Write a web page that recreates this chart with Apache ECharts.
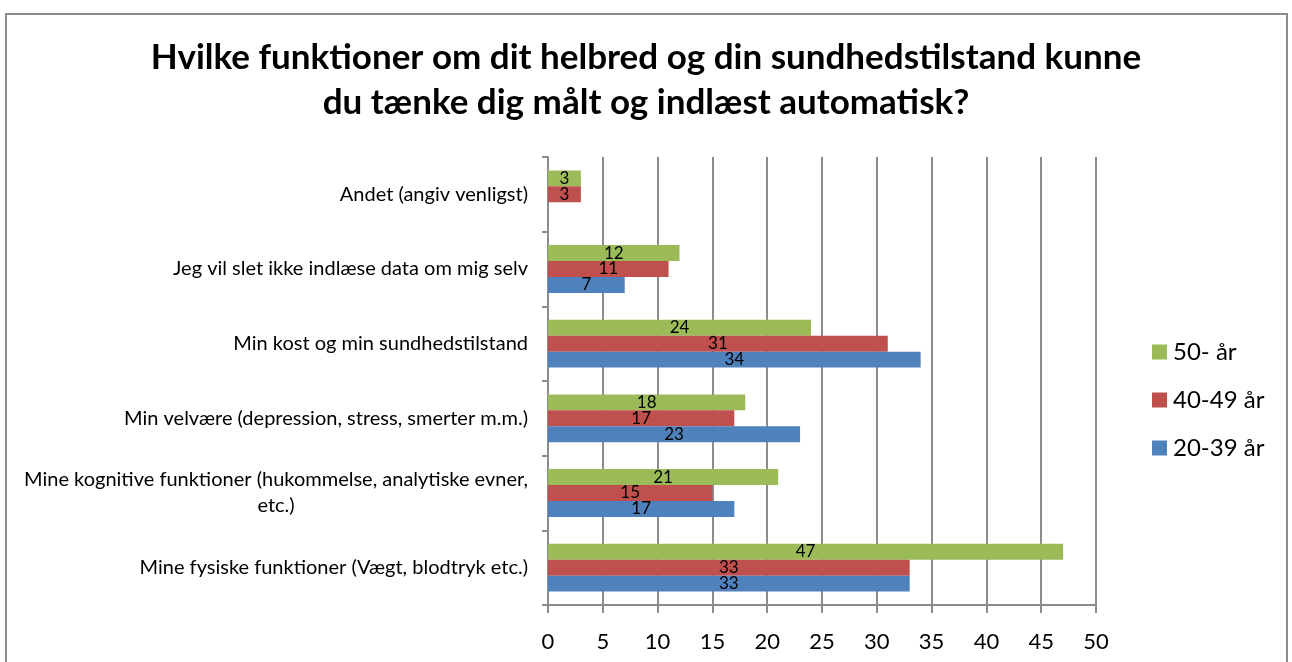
<!DOCTYPE html>
<html>
<head>
<meta charset="utf-8">
<script src="https://cdn.jsdelivr.net/npm/echarts@6/dist/echarts.min.js"></script>
<style>
html,body{margin:0;padding:0;background:#fff;}
#chart{width:1292px;height:662px;}
</style>
</head>
<body>
<div id="chart"></div>
<script>
const categories = [
  "Mine fysiske funktioner (Vægt, blodtryk etc.)",
  "Mine kognitive funktioner (hukommelse, analytiske evner, etc.)",
  "Min velvære (depression, stress, smerter m.m.)",
  "Min kost og min sundhedstilstand",
  "Jeg vil slet ikke indlæse data om mig selv",
  "Andet (angiv venligst)"
];
const seriesNames = ["50- år", "40-49 år", "20-39 år"];
const values50 = [47, 21, 18, 24, 12, 3];
const values4049 = [33, 15, 17, 31, 11, 3];
const values2039 = [33, 17, 23, 34, 7, null];
const xTicks = [0, 5, 10, 15, 20, 25, 30, 35, 40, 45, 50];
const titleText = "Hvilke funktioner om dit helbred og din sundhedstilstand kunne\ndu tænke dig målt og indlæst automatisk?";
const wrapLine1 = "Mine kognitive funktioner (hukommelse, analytiske evner,";
const wrapLine2 = "etc.)";

const colors = ["#9BBB59", "#C0504D", "#4F81BD"];
const FONT = "Lato, 'Open Sans', sans-serif";
const CAT_SIZE = 20;

// measure first line width so the second line is centred beneath it
const cv = document.createElement('canvas').getContext('2d');
cv.font = CAT_SIZE + "px Lato";
const line1W = Math.ceil(cv.measureText(wrapLine1).width);

const chart = echarts.init(document.getElementById('chart'));
function mkSeries(name, data, color) {
  return {
    name: name, type: 'bar', data: data,
    barGap: '0%', barCategoryGap: '36%',
    itemStyle: { color: color },
    label: { show: true, position: 'inside', color: '#000', fontFamily: FONT, fontSize: 17,
      formatter: p => (p.value == null ? '' : String(p.value)) }
  };
}
const axisColor = '#8c8c8c';
chart.setOption({
  animation: false,
  title: {
    text: titleText, left: 'center', top: 30,
    textStyle: { fontFamily: FONT, fontWeight: 'bold', fontSize: 35, color: '#000', lineHeight: 45 }
  },
  legend: {
    orient: 'vertical', left: 1152, top: 340, itemGap: 24, padding: 0,
    itemWidth: 15, itemHeight: 15, icon: 'rect',
    data: seriesNames,
    textStyle: { fontFamily: FONT, fontSize: 24, color: '#000', lineHeight: 24, padding: [0,0,0,1] }
  },
  grid: { left: 548, right: 196, top: 157, bottom: 57, containLabel: false },
  xAxis: {
    type: 'value', min: 0, max: 50, interval: 5,
    axisLine: { show: true, lineStyle: { color: axisColor, width: 2 } },
    axisTick: { show: true, length: 8, lineStyle: { color: axisColor, width: 2 } },
    splitLine: { show: true, lineStyle: { color: axisColor, width: 2 } },
    axisLabel: { fontFamily: FONT, fontSize: 22, color: '#000', margin: 26,
      formatter: v => xTicks.indexOf(v) >= 0 ? String(v) : '' }
  },
  yAxis: {
    type: 'category', data: categories,
    axisLine: { show: true, lineStyle: { color: axisColor, width: 2 } },
    axisTick: { show: true, length: 6, lineStyle: { color: axisColor, width: 2 } },
    axisLabel: {
      fontFamily: FONT, fontSize: CAT_SIZE, color: '#000', margin: 20, lineHeight: 26,
      formatter: function (v) {
        if (v.indexOf(wrapLine1) === 0) {
          return '{a|' + wrapLine1 + '}\n{b|' + wrapLine2 + '}';
        }
        return v;
      },
      rich: {
        a: { fontFamily: FONT, fontSize: CAT_SIZE, color: '#000', lineHeight: 26 },
        b: { fontFamily: FONT, fontSize: CAT_SIZE, color: '#000', lineHeight: 26, width: line1W, align: 'center' }
      }
    }
  },
  graphic: [{
    type: 'rect', shape: { x: 6, y: 14, width: 1281, height: 700 },
    style: { fill: 'none', stroke: '#8c8c8c', lineWidth: 2 }, silent: true
  }],
  series: [
    mkSeries(seriesNames[0], values50, colors[0]),
    mkSeries(seriesNames[1], values4049, colors[1]),
    mkSeries(seriesNames[2], values2039, colors[2])
  ]
});
</script>
</body>
</html>
